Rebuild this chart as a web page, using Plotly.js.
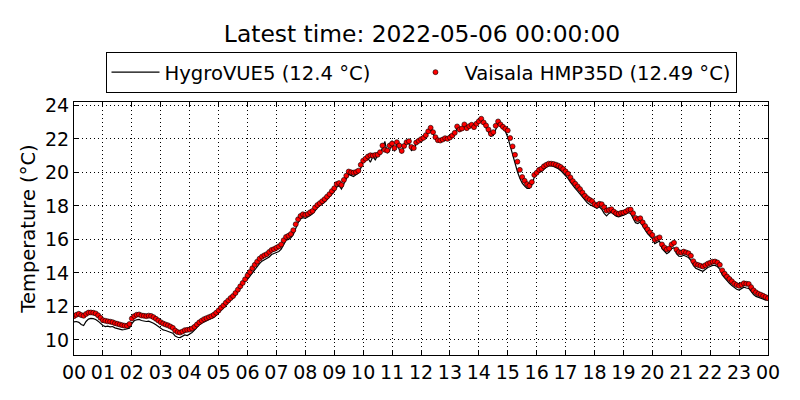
<!DOCTYPE html>
<html>
<head>
<meta charset="utf-8">
<script src="https://cdn.plot.ly/plotly-3.0.1.min.js"></script>
<style>html,body{margin:0;padding:0;background:#fff}#chart{width:800px;height:400px}</style>
</head>
<body>
<div id="chart"></div>
<script>
// 5-minute readings, 2022-05-05 00:00 .. 2022-05-06 00:00
var startTime = '2022-05-05T00:00:00';
var stepMinutes = 5;

var hygroName = 'HygroVUE5 (12.4 °C)';
var hmpName = 'Vaisala HMP35D (12.49 °C)';

var hygroTemps = [
  11.08, 11.10, 11.05, 10.92, 10.86, 11.10, 11.24, 11.28, 11.27, 11.22, 11.12, 10.98,
  10.86, 10.80, 10.82, 10.78, 10.80, 10.72, 10.68, 10.66, 10.60, 10.62, 10.66, 10.70,
  10.98, 11.14, 11.20, 11.22, 11.16, 11.12, 11.10, 11.12, 11.08, 11.00, 10.90, 10.80,
  10.66, 10.60, 10.56, 10.50, 10.46, 10.40, 10.24, 10.16, 10.14, 10.22, 10.30, 10.26,
  10.34, 10.44, 10.58, 10.76, 10.90, 11.00, 11.08, 11.14, 11.20, 11.28, 11.34, 11.46,
  11.60, 11.76, 11.90, 12.06, 12.20, 12.36, 12.50, 12.66, 12.86, 13.08, 13.28, 13.50,
  13.62, 13.82, 14.02, 14.20, 14.38, 14.55, 14.70, 14.78, 14.84, 14.95, 15.10, 15.15,
  15.20, 15.28, 15.42, 15.70, 15.95, 16.00, 16.10, 16.28, 16.70, 17.00, 17.22, 17.30,
  17.25, 17.32, 17.42, 17.52, 17.72, 17.88, 18.00, 18.10, 18.22, 18.38, 18.52, 18.70,
  18.85, 19.12, 19.20, 19.00, 19.35, 19.62, 19.88, 19.80, 19.75, 19.85, 19.95, 20.25,
  20.62, 20.70, 20.85, 20.60, 20.95, 20.75, 21.00, 21.10, 21.45, 21.85, 21.15, 21.30,
  21.90, 21.25, 21.75, 21.35, 21.15, 21.65, 21.85, 21.70, 21.30, 21.40, 21.70, 21.80,
  21.90, 22.00, 22.15, 22.35, 22.60, 22.30, 22.00, 21.85, 21.85, 21.90, 22.00, 21.95,
  22.00, 22.15, 22.30, 22.65, 22.45, 22.55, 22.80, 22.55, 22.70, 22.80, 22.65, 22.85,
  23.00, 23.15, 22.90, 22.70, 22.40, 22.15, 22.20, 22.60, 22.90, 22.75, 22.60, 22.45,
  22.10, 21.55, 21.00, 20.50, 20.05, 19.65, 19.35, 19.18, 19.05, 19.05, 19.25, 19.70,
  19.85, 20.00, 20.06, 20.20, 20.30, 20.38, 20.40, 20.36, 20.30, 20.22, 20.10, 19.96,
  19.80, 19.64, 19.42, 19.20, 19.04, 18.88, 18.70, 18.50, 18.32, 18.18, 18.08, 18.00,
  17.92, 17.85, 17.95, 17.80, 17.55, 17.40, 17.55, 17.62, 17.50, 17.38, 17.35, 17.42,
  17.45, 17.50, 17.60, 17.55, 17.30, 17.00, 16.95, 17.05, 16.80, 16.55, 16.35, 16.20,
  16.05, 15.75, 15.85, 15.90, 15.45, 15.28, 15.15, 15.25, 15.45, 15.50, 15.15, 15.00,
  14.98, 15.05, 15.00, 14.92, 14.75, 14.45, 14.28, 14.20, 14.15, 14.10, 14.22, 14.32,
  14.38, 14.45, 14.45, 14.38, 14.22, 13.88, 13.70, 13.52, 13.38, 13.24, 13.10, 13.02,
  12.98, 13.05, 13.15, 13.10, 13.08, 12.90, 12.70, 12.60, 12.55, 12.48, 12.42, 12.38,
  12.40
];

var hmpTemps = [
  11.42, 11.50, 11.56, 11.48, 11.44, 11.55, 11.63, 11.64, 11.62, 11.58, 11.47, 11.32,
  11.18, 11.14, 11.11, 11.09, 11.06, 11.00, 10.96, 10.92, 10.88, 10.85, 10.84, 10.95,
  11.28, 11.42, 11.50, 11.52, 11.46, 11.44, 11.42, 11.45, 11.43, 11.36, 11.26, 11.16,
  11.06, 10.98, 10.92, 10.87, 10.80, 10.72, 10.56, 10.47, 10.44, 10.50, 10.58, 10.60,
  10.62, 10.68, 10.78, 10.92, 11.05, 11.15, 11.24, 11.30, 11.36, 11.42, 11.50, 11.62,
  11.76, 11.92, 12.05, 12.22, 12.36, 12.50, 12.62, 12.80, 13.00, 13.20, 13.40, 13.62,
  13.85, 14.05, 14.28, 14.48, 14.67, 14.85, 14.97, 15.05, 15.12, 15.25, 15.37, 15.42,
  15.50, 15.58, 15.70, 15.95, 16.15, 16.22, 16.32, 16.55, 16.90, 17.20, 17.40, 17.50,
  17.46, 17.52, 17.62, 17.70, 17.90, 18.05, 18.16, 18.28, 18.40, 18.55, 18.70, 18.88,
  19.05, 19.30, 19.36, 19.25, 19.55, 19.80, 20.05, 20.00, 19.98, 20.02, 20.10, 20.45,
  20.70, 20.82, 20.95, 21.02, 21.00, 21.04, 21.05, 21.20, 21.60, 21.35, 21.30, 21.60,
  21.72, 21.45, 21.80, 21.60, 21.28, 21.58, 21.80, 21.86, 21.52, 21.45, 21.78, 21.88,
  21.98, 22.06, 22.22, 22.45, 22.66, 22.40, 22.10, 21.92, 21.90, 21.96, 22.04, 22.00,
  22.08, 22.20, 22.36, 22.74, 22.56, 22.62, 22.86, 22.64, 22.76, 22.84, 22.70, 22.90,
  23.05, 23.20, 22.98, 22.80, 22.56, 22.30, 22.40, 22.78, 23.04, 22.86, 22.72, 22.60,
  22.50, 22.05, 21.55, 21.05, 20.64, 20.15, 19.72, 19.50, 19.30, 19.20, 19.42, 19.85,
  19.98, 20.15, 20.22, 20.36, 20.45, 20.52, 20.52, 20.50, 20.46, 20.40, 20.32, 20.20,
  20.06, 19.92, 19.70, 19.48, 19.32, 19.16, 19.00, 18.80, 18.60, 18.46, 18.36, 18.28,
  18.10, 18.02, 18.12, 18.10, 17.92, 17.72, 17.76, 17.80, 17.66, 17.56, 17.52, 17.58,
  17.60, 17.66, 17.76, 17.78, 17.56, 17.28, 17.20, 17.26, 17.02, 16.80, 16.60, 16.42,
  16.26, 15.98, 16.06, 16.12, 15.70, 15.52, 15.40, 15.46, 15.70, 15.80, 15.40, 15.24,
  15.21, 15.27, 15.22, 15.17, 15.02, 14.70, 14.52, 14.47, 14.42, 14.38, 14.46, 14.55,
  14.61, 14.67, 14.68, 14.62, 14.48, 14.15, 13.95, 13.78, 13.64, 13.50, 13.36, 13.28,
  13.23, 13.29, 13.38, 13.35, 13.34, 13.15, 12.96, 12.84, 12.75, 12.70, 12.63, 12.56,
  12.49
];

var hourTickLabels = ['00','01','02','03','04','05','06','07','08','09','10','11',
  '12','13','14','15','16','17','18','19','20','21','22','23','00'];

var titleText = 'Latest time: 2022-05-06 00:00:00';
var yTitleText = 'Temperature (°C)';

function pad(n){ return (n < 10 ? '0' : '') + n; }
function timeAt(i){
  var base = Date.UTC(2022, 4, 5, 0, 0, 0);
  var d = new Date(base + i * stepMinutes * 60000);
  return d.getUTCFullYear() + '-' + pad(d.getUTCMonth()+1) + '-' + pad(d.getUTCDate()) +
    ' ' + pad(d.getUTCHours()) + ':' + pad(d.getUTCMinutes()) + ':00';
}
var times = hmpTemps.map(function(_, i){ return timeAt(i); });
var tickVals = hourTickLabels.map(function(_, i){ return timeAt(i * 12); });

var font = 'DejaVu Sans, sans-serif';
var legendPad = '\u00a0\u00a0\u00a0\u00a0\u00a0';

var traces = [
  {
    x: times, y: hygroTemps, name: hygroName + legendPad, type: 'scatter', mode: 'lines',
    line: {color: '#000000', width: 1.2}
  },
  {
    x: times, y: hmpTemps, name: hmpName, type: 'scatter', mode: 'markers',
    marker: {color: '#ff0000', size: 5, line: {color: '#000000', width: 0.6}}
  }
];

var axisCommon = {
  showline: true, linecolor: '#000', linewidth: 1, mirror: 'allticks',
  ticks: 'inside', ticklen: 4, tickcolor: '#000', tickwidth: 1,
  showgrid: true, gridcolor: '#000', gridwidth: 1, griddash: '1px,3px',
  zeroline: false, tickfont: {family: font, size: 19, color: '#000'}
};

var layout = {
  width: 800, height: 400,
  paper_bgcolor: '#fff', plot_bgcolor: '#fff',
  margin: {l: 74, r: 32, t: 102, b: 45},
  font: {family: font, color: '#000'},
  title: {text: titleText, font: {family: font, size: 23.4, color: '#000'},
    x: 0.5275, xanchor: 'center', y: 0.915, yanchor: 'middle'},
  showlegend: true,
  legend: {orientation: 'h', x: 0.5, xanchor: 'center', y: 1.036, yanchor: 'bottom',
    bordercolor: '#000', borderwidth: 1, bgcolor: '#fff', itemwidth: 48,
    font: {family: font, size: 19.6, color: '#000'}},
  xaxis: Object.assign({}, axisCommon, {
    type: 'date', range: [tickVals[0], tickVals[tickVals.length-1]],
    tickmode: 'array', tickvals: tickVals, ticktext: hourTickLabels
  }),
  yaxis: Object.assign({}, axisCommon, {
    range: [9.1, 24.2], tickmode: 'array',
    tickvals: [10,12,14,16,18,20,22,24], ticktext: ['10','12','14','16','18','20','22','24'],
    title: {text: yTitleText, font: {family: font, size: 19.5, color: '#000'}, standoff: 4}
  })
};

Plotly.newPlot('chart', traces, layout, {displayModeBar: false, staticPlot: true});
</script>
</body>
</html>
